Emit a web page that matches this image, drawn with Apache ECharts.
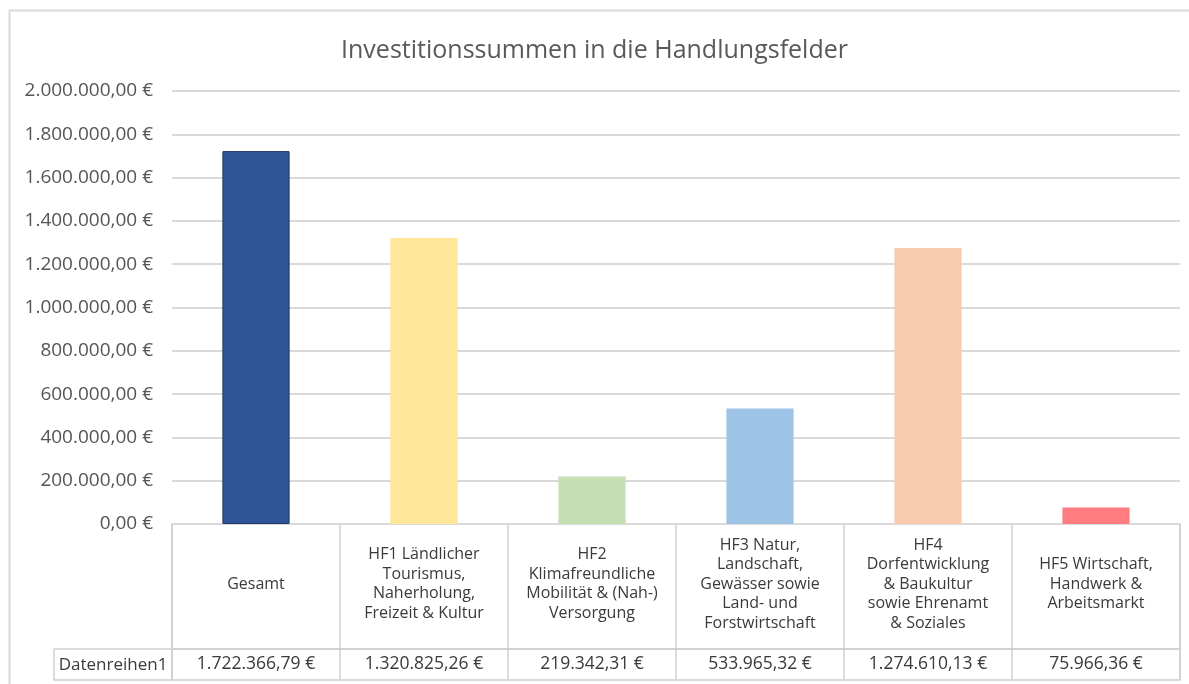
<!DOCTYPE html>
<html><head><meta charset="utf-8">
<script src="https://cdn.jsdelivr.net/npm/echarts@6/dist/echarts.min.js"></script>
<style>html,body{margin:0;padding:0;background:#fff}#c{width:1189px;height:684px}</style>
</head><body><div id="c"></div>
<script>
const chartTitle = 'Investitionssummen in die Handlungsfelder';
const seriesName = 'Datenreihen1';
const categories = [
  'Gesamt',
  'HF1 Ländlicher\nTourismus,\nNaherholung,\nFreizeit & Kultur',
  'HF2\nKlimafreundliche\nMobilität & (Nah-)\nVersorgung',
  'HF3 Natur,\nLandschaft,\nGewässer sowie\nLand- und\nForstwirtschaft',
  'HF4\nDorfentwicklung\n& Baukultur\nsowie Ehrenamt\n& Soziales',
  'HF5 Wirtschaft,\nHandwerk &\nArbeitsmarkt'
];
const values = [1722366.79, 1320825.26, 219342.31, 533965.32, 1274610.13, 75966.36];
const yMin = 0, yMax = 2000000, yInterval = 200000;
const barColors = ['#2F5597', '#FFE699', '#C5E0B4', '#9DC3E6', '#F8CBAD', '#FF7C80'];

function fmt(v) {
  const fixed = Math.abs(v).toFixed(2);
  const parts = fixed.split('.');
  const intPart = parts[0].replace(/\B(?=(\d{3})+(?!\d))/g, '.');
  return (v < 0 ? '-' : '') + intPart + ',' + parts[1] + ' €';
}

const FONT = 'Open Sans';
const chart = echarts.init(document.getElementById('c'));
const gridLeft = 172, gridW = 1008;
const option = {
  backgroundColor: '#fff',
  animation: false,
  textStyle: { fontFamily: FONT },
  title: {
    text: chartTitle, left: 'center', top: 33,
    textStyle: { fontSize: 25, fontWeight: 'normal', color: '#595959', fontFamily: FONT }
  },
  grid: [
    { left: gridLeft, width: gridW, top: 91, height: 433 },
    { left: gridLeft, width: gridW, top: 524, height: 125, show: true, borderColor: '#d0d0d0', borderWidth: 1.5, backgroundColor: 'transparent' },
    { left: gridLeft, width: gridW, top: 649, height: 31, show: true, borderColor: '#d0d0d0', borderWidth: 1.5, backgroundColor: 'transparent' }
  ],
  xAxis: [
    { type: 'category', gridIndex: 0, data: categories, axisLabel: { show: false }, axisTick: { show: false }, axisLine: { show: false } },
    { type: 'category', gridIndex: 1, data: categories, position: 'top',
      axisLine: { show: false }, axisTick: { show: false },
      splitLine: { show: true, lineStyle: { color: '#d0d0d0', width: 1.5 } },
      axisLabel: { inside: true, interval: 0, margin: 60, verticalAlign: 'middle', align: 'center', lineHeight: 19.5, fontSize: 16, color: '#3a3a3a', fontFamily: FONT } },
    { type: 'category', gridIndex: 2, data: values.map(fmt), position: 'top',
      axisLine: { show: false }, axisTick: { show: false },
      splitLine: { show: true, lineStyle: { color: '#d0d0d0', width: 1.5 } },
      axisLabel: { inside: true, interval: 0, margin: 15, verticalAlign: 'middle', align: 'center', fontSize: 17.5, color: '#3a3a3a', fontFamily: FONT } }
  ],
  yAxis: [
    { type: 'value', gridIndex: 0, min: yMin, max: yMax, interval: yInterval,
      axisLine: { show: false }, axisTick: { show: false },
      splitLine: { lineStyle: { color: '#d9d9d9', width: 2 } },
      axisLabel: { formatter: fmt, fontSize: 19, color: '#555555', margin: 19, fontFamily: FONT } },
    { type: 'value', gridIndex: 1, show: false, splitLine: { show: false } },
    { type: 'value', gridIndex: 2, show: false, splitLine: { show: false } }
  ],
  series: [{
    name: seriesName, type: 'bar', xAxisIndex: 0, yAxisIndex: 0, barWidth: '40%',
    data: values.map((v, i) => ({
      value: v,
      itemStyle: { color: barColors[i], borderColor: i === 0 ? '#203864' : barColors[i], borderWidth: i === 0 ? 1 : 0 }
    }))
  }],
  graphic: [
    { type: 'rect', shape: { x: 9.5, y: 10.5, width: 1200, height: 700 }, style: { fill: 'none', stroke: '#d9d9d9', lineWidth: 2 }, silent: true },
    { type: 'rect', shape: { x: 54, y: 649, width: 118, height: 31 }, style: { fill: 'none', stroke: '#d0d0d0', lineWidth: 1.5 }, silent: true },
    { type: 'text', x: 113, y: 665, style: { text: seriesName, align: 'center', verticalAlign: 'middle', fontSize: 17, fill: '#3a3a3a', fontFamily: FONT }, silent: true }
  ]
};
chart.setOption(option);
</script></body></html>
